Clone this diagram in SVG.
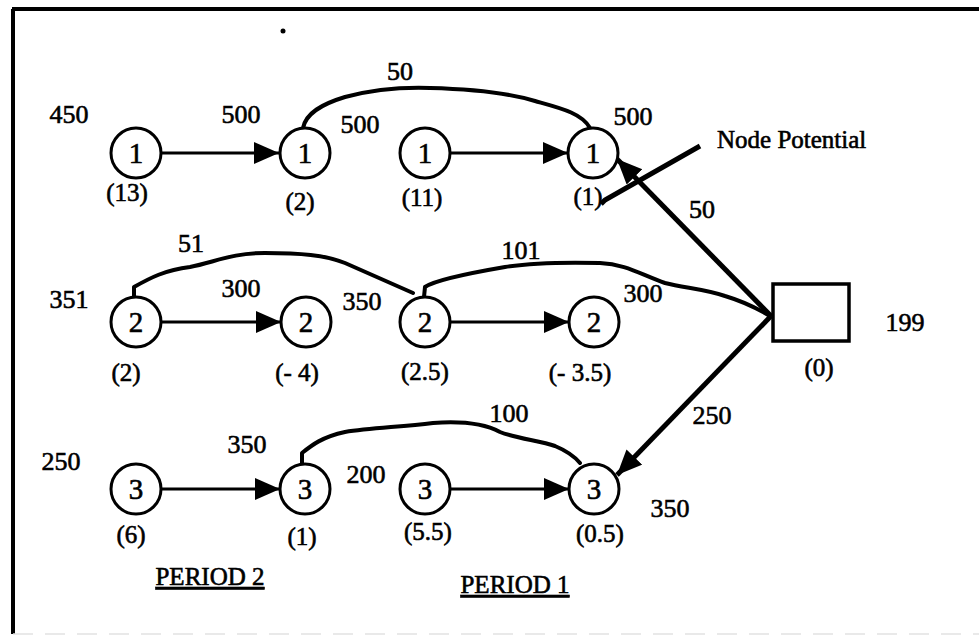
<svg xmlns="http://www.w3.org/2000/svg" width="979" height="636" viewBox="0 0 979 636">
<style>
text{font-family:"Liberation Serif","Times New Roman",serif;fill:#000;stroke:#000;stroke-width:0.6}
.n{font-size:26px;text-anchor:middle}
.p{font-size:25px;text-anchor:middle}
.d{font-size:29px;text-anchor:middle}
.c{fill:#fff;stroke:#000;stroke-width:3}
.h{fill:none;stroke:#000;stroke-width:3}
.cv{fill:none;stroke:#000;stroke-width:4;stroke-linejoin:round;stroke-linecap:round}
.dg{fill:none;stroke:#000;stroke-width:5}
.u{text-decoration:underline}
</style>
<defs>
<marker id="ah" markerUnits="userSpaceOnUse" markerWidth="26" markerHeight="24" refX="25" refY="11" orient="auto">
<path d="M0,0 L25,11 L0,22 z" fill="#000"/>
</marker>
</defs>
<rect width="979" height="636" fill="#fff"/>
<g id="frame">
<line x1="12" y1="9" x2="979" y2="9" stroke="#000" stroke-width="4"/>
<line x1="13" y1="9" x2="13" y2="634" stroke="#000" stroke-width="4"/>
<line x1="13" y1="634" x2="979" y2="634" stroke="#e2e2e2" stroke-width="1.5" stroke-dasharray="20 12"/>
<circle cx="283" cy="31" r="2.5" fill="#000"/>
</g>
<g id="connectors">
<line class="h" x1="161" y1="153" x2="279" y2="153" marker-end="url(#ah)"/>
<line class="h" x1="450" y1="153" x2="568" y2="153" marker-end="url(#ah)"/>
<line class="h" x1="161" y1="322" x2="281" y2="322" marker-end="url(#ah)"/>
<line class="h" x1="450" y1="322" x2="569" y2="322" marker-end="url(#ah)"/>
<line class="h" x1="161" y1="489" x2="280" y2="489" marker-end="url(#ah)"/>
<line class="h" x1="450" y1="489" x2="569" y2="489" marker-end="url(#ah)"/>
<path class="cv" d="M303,128 C306,113 322,104 345,97 C375,89 400,87 430,88 C470,89 505,92 535,101 C560,108 582,113 590,128"/>
<path class="cv" d="M134,297 L134,287 C150,278 165,270 190,267 C215,262 232,253 265,253 C300,253 325,255 345,263 C370,274 395,285 413,293"/>
<path class="cv" d="M424,297 L425,287 C435,280 470,273 505,267 C530,263 560,262 600,263 C625,264 640,274 665,283 C685,288 705,289 725,296 C745,302 760,310 770,316"/>
<path class="cv" d="M302,464 L302,453 C312,445 322,437 345,432 C370,428 400,427 433,423 C460,421 485,424 500,432 C515,438 540,441 555,446 C567,451 575,457 580,463"/>
<line class="dg" x1="771" y1="316" x2="617" y2="159" marker-end="url(#ah)"/>
<line class="dg" x1="771" y1="316" x2="617" y2="475" marker-end="url(#ah)"/>
<polyline class="dg" points="601,204 605,200 700,146"/>
</g>
<g id="n1a"><circle class="c" cx="136" cy="153" r="25"/><text class="d" x="136" y="163">1</text></g>
<g id="n1b"><circle class="c" cx="305" cy="153" r="25"/><text class="d" x="305" y="163">1</text></g>
<g id="n1c"><circle class="c" cx="425" cy="153" r="25"/><text class="d" x="425" y="163">1</text></g>
<g id="n1d"><circle class="c" cx="593" cy="153" r="25"/><text class="d" x="593" y="163">1</text></g>
<g id="n2a"><circle class="c" cx="136" cy="322" r="25"/><text class="d" x="136" y="332">2</text></g>
<g id="n2b"><circle class="c" cx="306" cy="322" r="25"/><text class="d" x="306" y="332">2</text></g>
<g id="n2c"><circle class="c" cx="425" cy="322" r="25"/><text class="d" x="425" y="332">2</text></g>
<g id="n2d"><circle class="c" cx="594" cy="322" r="25"/><text class="d" x="594" y="332">2</text></g>
<g id="n3a"><circle class="c" cx="136" cy="489" r="25"/><text class="d" x="136" y="499">3</text></g>
<g id="n3b"><circle class="c" cx="305" cy="489" r="25"/><text class="d" x="305" y="499">3</text></g>
<g id="n3c"><circle class="c" cx="425" cy="489" r="25"/><text class="d" x="425" y="499">3</text></g>
<g id="n3d"><circle class="c" cx="594" cy="489" r="25"/><text class="d" x="594" y="499">3</text></g>
<g id="src"><rect x="773" y="284" width="76" height="57" fill="#fff" stroke="#000" stroke-width="3.5"/></g>
<g id="labels">
<text class="n" x="69" y="123">450</text>
<text class="n" x="241" y="123">500</text>
<text class="n" x="400" y="80">50</text>
<text class="n" x="360" y="133">500</text>
<text class="n" x="633" y="125">500</text>
<text x="717" y="148" style="font-size:25px">Node Potential</text>
<text class="p" x="127" y="201">(13)</text>
<text class="p" x="300" y="210">(2)</text>
<text class="p" x="422" y="206">(11)</text>
<text class="p" x="588" y="205">(1)</text>
<text class="n" x="702" y="218">50</text>
<text class="n" x="191" y="252">51</text>
<text class="n" x="69" y="308">351</text>
<text class="n" x="241" y="297">300</text>
<text class="n" x="362" y="310">350</text>
<text class="n" x="521" y="259">101</text>
<text class="n" x="643" y="302">300</text>
<text class="n" x="905" y="331">199</text>
<text class="p" x="819" y="376">(0)</text>
<text class="p" x="126" y="381">(2)</text>
<text class="p" x="297" y="381">(- 4)</text>
<text class="p" x="425" y="380">(2.5)</text>
<text class="p" x="580" y="381">(- 3.5)</text>
<text class="n" x="509" y="422">100</text>
<text class="n" x="712" y="424">250</text>
<text class="n" x="61" y="470">250</text>
<text class="n" x="247" y="453">350</text>
<text class="n" x="366" y="483">200</text>
<text class="n" x="670" y="517">350</text>
<text class="p" x="131" y="543">(6)</text>
<text class="p" x="302" y="545">(1)</text>
<text class="p" x="428" y="540">(5.5)</text>
<text class="p" x="600" y="542">(0.5)</text>
<text class="p u" x="210" y="585">PERIOD 2</text>
<text class="p u" x="515" y="593">PERIOD 1</text>
</g>
</svg>
